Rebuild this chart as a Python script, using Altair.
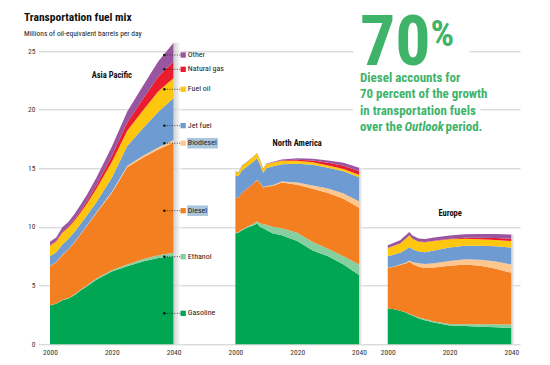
import altair as alt
import pandas as pd

FONT = "Liberation Sans Narrow, Roboto Condensed, DejaVu Sans Condensed, Liberation Sans, sans-serif"
GREEN = "#3fb36a"

FUELS = ["Gasoline", "Ethanol", "Diesel", "Biodiesel", "Jet fuel", "Fuel oil", "Natural gas", "Other"]
COLORS = ["#00a651", "#86cfa0", "#f47f20", "#fdc78d", "#6e9bd2", "#fdc70f", "#ec1c2f", "#9a55a0"]

REGIONS = ["Asia Pacific", "North America", "Europe"]
REGION_OFFSET = [0.0, 60.0, 109.3]          # x slot of each panel (years after 2000)
REGION_LABEL_U = [20.0, 80.0, 129.5]
REGION_LABEL_V = [22.96, 17.13, 11.17]

ASIA_YEARS = [2000, 2002, 2004, 2006, 2008, 2010, 2012, 2015, 2020, 2025, 2030, 2035, 2040]
ASIA = {
    "Gasoline":    [3.3, 3.45, 3.75, 3.9, 4.2, 4.6, 4.95, 5.5, 6.2, 6.65, 7.05, 7.35, 7.5],
    "Ethanol":     [0.03, 0.03, 0.04, 0.05, 0.06, 0.07, 0.08, 0.1, 0.12, 0.15, 0.2, 0.25, 0.3],
    "Diesel":      [3.32, 3.52, 3.81, 4.15, 4.44, 4.73, 5.07, 5.6, 6.58, 8.3, 8.65, 9.0, 9.4],
    "Biodiesel":   [0.02, 0.02, 0.03, 0.03, 0.04, 0.05, 0.05, 0.06, 0.08, 0.12, 0.15, 0.18, 0.22],
    "Jet fuel":    [0.83, 0.83, 0.87, 0.87, 0.86, 0.85, 0.85, 0.84, 1.22, 1.68, 2.35, 3.02, 3.58],
    "Fuel oil":    [0.9, 0.9, 1.0, 0.95, 0.95, 0.95, 1.0, 1.15, 1.35, 1.3, 1.5, 1.75, 1.7],
    "Natural gas": [0.05, 0.05, 0.08, 0.1, 0.13, 0.18, 0.22, 0.3, 0.5, 0.7, 1.0, 1.25, 1.4],
    "Other":       [0.3, 0.3, 0.4, 0.4, 0.45, 0.5, 0.55, 0.65, 0.8, 0.95, 1.1, 1.3, 1.6],
}

NA_YEARS = [2000, 2001, 2002, 2004, 2006, 2007, 2008, 2009, 2010, 2012, 2015, 2020, 2025, 2030, 2035, 2040]
NA = {
    "Gasoline":    [9.46, 9.5, 9.7, 9.95, 10.15, 10.3, 10.0, 9.9, 9.75, 9.46, 9.3, 8.8, 8.0, 7.5, 6.8, 5.9],
    "Ethanol":     [0.05, 0.06, 0.07, 0.1, 0.15, 0.2, 0.3, 0.35, 0.45, 0.55, 0.6, 0.7, 0.72, 0.65, 0.7, 0.9],
    "Diesel":      [2.99, 2.95, 3.13, 3.25, 3.45, 3.5, 3.45, 3.1, 3.25, 3.49, 3.9, 4.1, 4.53, 4.75, 4.9, 4.85],
    "Biodiesel":   [0.0, 0.0, 0.0, 0.0, 0.01, 0.02, 0.03, 0.04, 0.05, 0.06, 0.08, 0.2, 0.28, 0.38, 0.45, 0.55],
    "Jet fuel":    [1.9, 1.82, 1.9, 1.9, 1.84, 1.83, 1.52, 1.21, 1.5, 1.59, 1.47, 1.6, 1.77, 1.77, 1.9, 2.05],
    "Fuel oil":    [0.35, 0.3, 0.38, 0.4, 0.42, 0.45, 0.4, 0.35, 0.35, 0.33, 0.3, 0.25, 0.22, 0.2, 0.2, 0.2],
    "Natural gas": [0.0, 0.0, 0.0, 0.0, 0.0, 0.0, 0.0, 0.0, 0.0, 0.01, 0.03, 0.08, 0.15, 0.22, 0.28, 0.3],
    "Other":       [0.03, 0.03, 0.03, 0.03, 0.03, 0.03, 0.03, 0.03, 0.04, 0.05, 0.08, 0.12, 0.15, 0.2, 0.25, 0.3],
}

EU_YEARS = [2000, 2002, 2004, 2006, 2007, 2008, 2010, 2012, 2015, 2020, 2025, 2030, 2035, 2040]
EU = {
    "Gasoline":    [3.07, 2.98, 2.85, 2.68, 2.55, 2.45, 2.2, 2.05, 1.85, 1.6, 1.55, 1.5, 1.45, 1.38],
    "Ethanol":     [0.01, 0.01, 0.02, 0.03, 0.04, 0.05, 0.08, 0.1, 0.1, 0.12, 0.15, 0.2, 0.25, 0.3],
    "Diesel":      [3.42, 3.61, 3.88, 4.19, 4.46, 4.35, 4.32, 4.35, 4.6, 4.98, 5.1, 5.0, 4.75, 4.42],
    "Biodiesel":   [0.02, 0.03, 0.05, 0.08, 0.1, 0.15, 0.3, 0.35, 0.35, 0.4, 0.45, 0.5, 0.6, 0.7],
    "Jet fuel":    [0.98, 1.02, 1.0, 1.12, 1.15, 1.1, 1.0, 1.0, 1.1, 1.15, 1.15, 1.2, 1.3, 1.45],
    "Fuel oil":    [0.7, 0.75, 0.8, 0.95, 1.0, 0.9, 0.85, 0.85, 0.8, 0.7, 0.6, 0.55, 0.55, 0.55],
    "Natural gas": [0.0, 0.0, 0.0, 0.0, 0.0, 0.0, 0.01, 0.02, 0.03, 0.05, 0.08, 0.13, 0.17, 0.2],
    "Other":       [0.25, 0.25, 0.27, 0.28, 0.28, 0.27, 0.25, 0.25, 0.28, 0.28, 0.3, 0.32, 0.33, 0.35],
}

LABELS = ["Other", "Natural gas", "Fuel oil", "Jet fuel", "Biodiesel", "Diesel", "Ethanol", "Gasoline"]
LABEL_Y = [24.66, 23.44, 21.74, 18.64, 17.14, 11.39, 7.47, 2.64]
LABEL_HIGHLIGHT = [False, False, False, False, True, True, False, False]

TICK_YEARS = [2000, 2020, 2040]
Y_TICKS = [0, 5, 10, 15, 20, 25]

# ---------------- scales / axes ----------------
XMIN, XMAX = -3.72, 152.1
W, H = 481.5, 305.0
PX_PER_U = W / (XMAX - XMIN)
tick_u = [off + (t - 2000) for off in REGION_OFFSET for t in TICK_YEARS]
label_expr = (
    f"datum.value <= {REGION_OFFSET[0] + 40} ? format(datum.value + {2000 - REGION_OFFSET[0]}, 'd') : "
    f"datum.value <= {REGION_OFFSET[1] + 40} ? format(datum.value + {2000 - REGION_OFFSET[1]}, 'd') : "
    f"format(round(datum.value + {2000 - REGION_OFFSET[2]}), 'd')"
)
xscale = alt.Scale(domain=[XMIN, XMAX], nice=False, zero=False)
yscale = alt.Scale(domain=[0, 26], nice=False)
xaxis = alt.Axis(values=tick_u, labelExpr=label_expr, grid=False, domain=False, ticks=False,
                 labelFontSize=7.5, labelColor="#333333", labelPadding=4, title=None, labelFont=FONT)
yaxis = alt.Axis(values=Y_TICKS, grid=True, gridColor="#cccccc", gridWidth=1, domain=False, ticks=False,
                 labelFontSize=7.5, labelColor="#333333", labelPadding=3.5, title=None, labelFont=FONT)
color = alt.Color("fuel:N", scale=alt.Scale(domain=FUELS, range=COLORS), legend=None)

X = alt.X("u:Q", scale=xscale, axis=xaxis)
Y = alt.Y("value:Q", scale=yscale, axis=yaxis, stack=None)

# ---------------- stacked areas, one layer per region ----------------
area_layers = []
shadow_rows = []
for region, off, years, table, w in zip(REGIONS, REGION_OFFSET, [ASIA_YEARS, NA_YEARS, EU_YEARS],
                                        [ASIA, NA, EU], [2.3, 1.1, 1.1]):
    rows = []
    for k, fuel in enumerate(FUELS):
        for yr, v in zip(years, table[fuel]):
            rows.append({"u": off + (yr - 2000), "fuel": fuel, "k": k, "value": v})
    rdf = pd.DataFrame(rows)
    area_layers.append(
        alt.Chart(rdf).mark_area().encode(
            x=X,
            y=alt.Y("value:Q", scale=yscale, axis=yaxis, stack="zero"),
            color=color,
            order=alt.Order("k:Q", sort="ascending"),
        )
    )
    total = sum(table[f][-1] for f in FUELS)
    shadow_rows.append({"u": off + 40, "u2": off + 40 + w, "value": 0.0, "v2": total})
shadow_df = pd.DataFrame(shadow_rows)

U_DOT, U_LEAD_END, U_SQ, U_TXT = 37.0, 42.2, 43.1, 44.6
lab_df = pd.DataFrame({
    "label": LABELS, "fuel": LABELS, "value": LABEL_Y,
    "u": [U_DOT] * len(LABELS), "u2": [U_LEAD_END] * len(LABELS),
    "us": [U_SQ] * len(LABELS), "ut": [U_TXT] * len(LABELS),
})
hl = [i for i, h in enumerate(LABEL_HIGHLIGHT) if h]
hl_df = pd.DataFrame({
    "u": [U_TXT - 0.2 for _ in hl],
    "u2": [U_TXT - 0.2 + (len(LABELS[i]) * 3.3 + 1) / PX_PER_U for i in hl],
    "value": [LABEL_Y[i] - 0.45 for i in hl],
    "v2": [LABEL_Y[i] + 0.45 for i in hl],
})
reg_df = pd.DataFrame({"region": REGIONS, "u": REGION_LABEL_U, "value": REGION_LABEL_V})
gap_df = pd.DataFrame({"u": [98.2, 98.0], "u2": [135.7, 139.3], "value": [24.5, 19.5], "v2": [25.5, 20.5]})

gap = alt.Chart(gap_df).mark_rect(color="white").encode(x=X, x2="u2:Q", y=Y, y2="v2:Q")

shadow = alt.Chart(shadow_df).mark_rect(
    opacity=0.7,
    color=alt.Gradient(gradient="linear", x1=0, x2=1, y1=0, y2=0,
                       stops=[alt.GradientStop(color="#bdbdbd", offset=0),
                              alt.GradientStop(color="#ffffff", offset=1)])
).encode(x=X, x2="u2:Q", y=Y, y2="v2:Q")

leaders = alt.Chart(lab_df).mark_rule(color="#222222", strokeDash=[1, 1.5], strokeWidth=0.8).encode(
    x=X, x2="u2:Q", y=Y)
dots = alt.Chart(lab_df).mark_circle(color="#111111", size=6, opacity=1).encode(x=X, y=Y)
squares = alt.Chart(lab_df).mark_square(size=28, opacity=1).encode(
    x=alt.X("us:Q", scale=xscale, axis=xaxis), y=Y, color=color)
highlight = alt.Chart(hl_df).mark_rect(color="#a9c6de").encode(x=X, x2="u2:Q", y=Y, y2="v2:Q")
label_text = alt.Chart(lab_df).mark_text(align="left", baseline="middle", fontSize=8, font=FONT,
                                         color="#222222").encode(
    x=alt.X("ut:Q", scale=xscale, axis=xaxis), y=Y, text="label:N")
region_text = alt.Chart(reg_df).mark_text(align="center", baseline="middle", fontSize=8.5, fontWeight="bold",
                                          font=FONT, color="#111111").encode(x=X, y=Y, text="region:N")

one = pd.DataFrame({"k": [0]})
OX, OY = 38.5, 39.3   # page position of plot origin


def ptext(txt, px, py, size, weight="normal", style="normal", col=GREEN):
    return alt.Chart(one).mark_text(text=txt, align="left", baseline="alphabetic", fontSize=size,
                                    fontWeight=weight, fontStyle=style, color=col, font=FONT).encode(
        x=alt.value(px - OX), y=alt.value(py - OY))


texts = [
    ptext("Transportation fuel mix", 24, 20.7, 11.5, "bold", col="#111111"),
    ptext("Millions of oil-equivalent barrels per day", 24, 36, 7.5, col="#222222"),
    ptext("70", 360, 65, 70, "bold"),
    ptext("%", 430.5, 46.5, 37, "bold"),
    ptext("Diesel accounts for", 360, 81.7, 13, "bold"),
    ptext("70 percent of the growth", 360, 98.3, 13, "bold"),
    ptext("in transportation fuels", 360, 114.8, 13, "bold"),
    ptext("over the", 360, 131, 13, "bold"),
    ptext("Outlook", 404.5, 131, 13, "bold", "italic"),
    ptext("period.", 445.5, 131, 13, "bold"),
]

chart = alt.layer(
    *area_layers, gap, shadow, leaders, dots, squares, highlight, label_text, region_text, *texts
).properties(
    width=W, height=H, autosize="none",
    padding={"left": 30.5, "top": 31.3, "right": 22, "bottom": 14},
).configure_view(stroke=None)

chart.save("out.html", embed_options={"renderer": "svg", "actions": False})
